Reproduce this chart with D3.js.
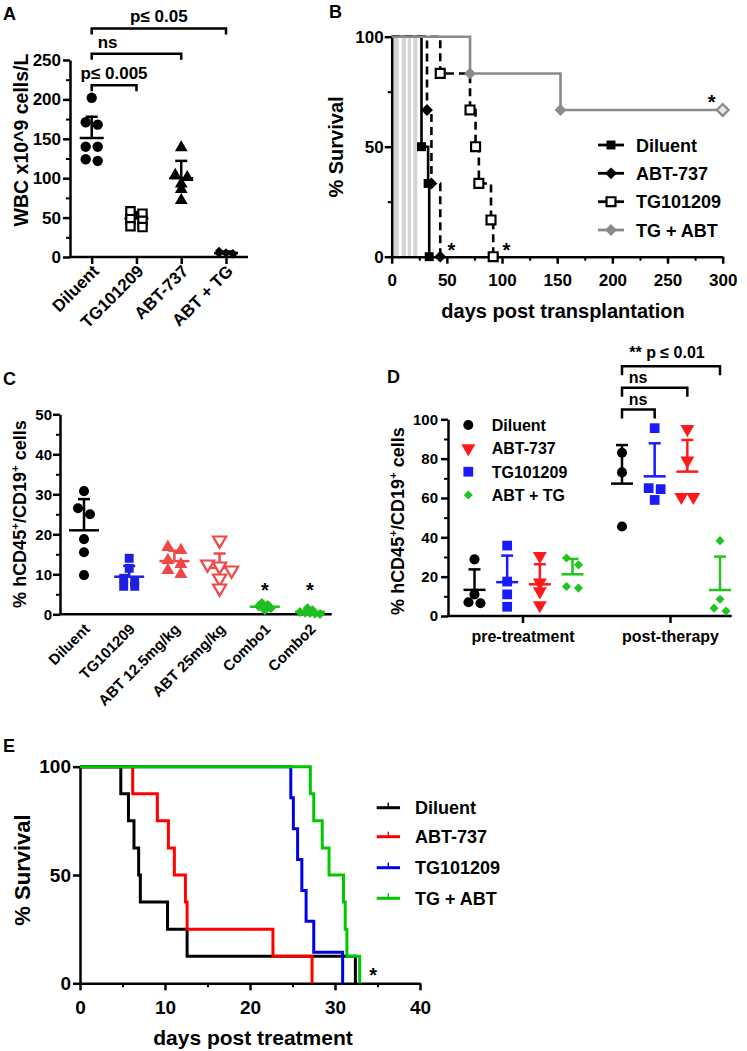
<!DOCTYPE html>
<html><head><meta charset="utf-8">
<script src="https://cdn.jsdelivr.net/npm/d3@7"></script>
<style>
body{margin:0;background:#fff;}
svg{display:block;}
</style></head><body>
<svg id="fig" width="747" height="1051"></svg>
<script>
// ================= DATA =================
// Panel A
const aCategories = ["Diluent","TG101209","ABT-737","ABT + TG"];
const aDiluent = [202,171,168,140,140,124,122];
const aTG101209 = [58,55,48,46,39,38];
const aABT737 = [139,104,101,93,86,72];
const aABTTG = [8,6,5,4,4,3];
const aMeans = [151,49,100,5];
const aSDUpper = [178,57,122,7];
const aYTicks = [0,50,100,150,200,250];
const aBrackets = [["Diluent","TG101209","p\u2264 0.005",218],["Diluent","ABT-737","ns",258],["Diluent","ABT + TG","p\u2264 0.05",290]];

// Panel B
const bStripes = [[1.5,6.3],[9,13],[14.5,17.5],[19.6,23.2]];
const bSeries = ["Diluent","ABT-737","TG101209","TG + ABT"];
const bDiluentDays = [0,27,33,34];
const bDiluentSurv = [100,50,33.3,0];
const bABTDays = [0,32,36,44];
const bABTSurv = [100,66.7,33.3,0];
const bTGDays = [0,44,71,76,79,90,92];
const bTGSurv = [100,83.3,66.7,50,33.3,16.7,0];
const bComboDays = [0,71,153,300];
const bComboSurv = [100,83.3,66.7,66.7];
const bXTicks = [0,50,100,150,200,250,300];
const bYTicks = [0,50,100];
const bStars = [[54,5],[104,5],[290,72]];

// Panel C
const cCategories = ["Diluent","TG101209","ABT 12.5mg/kg","ABT 25mg/kg","Combo1","Combo2"];
const cDiluent = [30.8,26.5,25,18.8,15.5,9.8];
const cTG101209 = [14,11.5,9,8,7,7];
const cABT125 = [16.8,16,13.5,12.5,11,10];
const cABT25 = [18.5,12.5,12,11,9,6.5];
const cCombo1 = [2.8,2.3,2.0,1.8,1.5,1.0];
const cCombo2 = [1.5,1.0,0.6,0.4,0.3,0.2,0.1];
const cMeans = [21,9.4,13.3,11.6,1.9,0.6];
const cSDUpper = [28.8,12.1,15.9,15.2,2.6,1.2];
const cYTicks = [0,10,20,30,40,50];
const cStars = ["Combo1","Combo2"];

// Panel D
const dGroups = ["pre-treatment","post-therapy"];
const dSeries = ["Diluent","TG101209","ABT-737","ABT + TG"];
const dLegendOrder = ["Diluent","ABT-737","TG101209","ABT + TG"];
const dPreDiluent = [28.8,11,7,6.5];
const dPreTG = [35.8,17.5,11,4.7];
const dPreABT = [30.5,17,12.5,5.5];
const dPreCombo = [29.5,26,15,14.2];
const dPostDiluent = [83,73,45.5];
const dPostTG = [95.5,65,64.5,59];
const dPostABT = [95,79,60.5,60.5];
const dPostCombo = [38.3,8.5,4,2.5];
const dPreMeans = [13.3,17.2,16.1,21.2];
const dPreSDUpper = [23.7,30.7,26.3,29];
const dPostMeans = [67.3,71,73.4,13.2];
const dPostSDUpper = [86.9,87.8,89.5,30.2];
const dYTicks = [0,20,40,60,80,100];
const dBrackets = [["TG101209","ns",105],["ABT-737","ns",116],["ABT + TG","** p \u2264 0.01",127]];

// Panel E
const eSeries = ["Diluent","ABT-737","TG101209","TG + ABT"];
const eDiluentDays = [0,4.8,5.7,6.35,6.9,7.1,10.3,12.6,32.4];
const eDiluentSurv = [100,87.5,75,62.5,50,37.5,25,12.5,0];
const eABTDays = [0,6.2,9.1,10.4,11.1,12.4,12.6,22.7,27.3];
const eABTSurv = [100,87.5,75,62.5,50,37.5,25,12.5,0];
const eTGDays = [0,24.8,25.1,25.6,26.1,26.6,27.5,30.9];
const eTGSurv = [100,85.7,71.4,57.1,42.9,28.6,14.3,0];
const eComboDays = [0,27.1,27.5,28.5,29.3,31.0,31.2,31.4,32.9];
const eComboSurv = [100,87.5,75,62.5,50,37.5,25,12.5,0];
const eXTicks = [0,10,20,30,40];
const eYTicks = [0,50,100];
const eStar = [34.5,6];

// ================= DRAWING =================
const FONT = '"Liberation Sans", Arial, Helvetica, sans-serif';
const svg = d3.select("#fig").attr("font-family", FONT).attr("font-weight","bold");
const AW = 2.5;

function styleAxis(g, fs){
  g.attr("font-family", FONT).attr("font-size", fs).attr("font-weight","bold");
  g.select(".domain").attr("stroke","#000").attr("stroke-width",AW);
  g.selectAll(".tick line").attr("stroke","#000").attr("stroke-width",AW);
  g.selectAll(".tick text").attr("fill","#000");
  return g;
}
function minorTicks(g){ g.select(".domain").remove(); g.selectAll(".tick line").attr("stroke","#000").attr("stroke-width",2); g.selectAll("text").remove(); }

function sym(type){
  if(type==="circle") return {t:d3.symbolCircle, r:0};
  if(type==="square") return {t:d3.symbolSquare, r:0};
  if(type==="tri") return {t:d3.symbolTriangle, r:0};
  if(type==="tridown") return {t:d3.symbolTriangle, r:180};
  return {t:d3.symbolSquare, r:45};
}
function marker(g, type, size, x, y, fill, stroke, sw){
  const s = sym(type);
  g.append("path").attr("d", d3.symbol().type(s.t).size(size)())
   .attr("transform",`translate(${x},${y}) rotate(${s.r})`)
   .attr("fill",fill).attr("stroke",stroke||"none").attr("stroke-width",sw||0);
}
// symmetric row jitter
function jitter(values, y, spacing, thresh){
  const idx = values.map((v,i)=>i).sort((a,b)=>values[b]-values[a]);
  const off = new Array(values.length).fill(0);
  let row=[], start=null;
  const flush=()=>{row.forEach((i,k)=>{off[i]=(k-(row.length-1)/2)*spacing;}); row=[];};
  idx.forEach(i=>{
    const py=y(values[i]);
    if(row.length && Math.abs(py-start)>thresh) flush();
    if(!row.length) start=py;
    row.push(i);
  });
  flush();
  return off;
}
function scatter(g, values, cx, y, type, size, fill, stroke, sw, spacing, thresh){
  const off = jitter(values, y, spacing, thresh);
  values.forEach((v,i)=>marker(g,type,size,cx+off[i],y(v),fill,stroke,sw));
}
function meanSD(g, cx, mean, upper, y, color, halfW, capHalf){
  g.append("line").attr("x1",cx).attr("x2",cx).attr("y1",y(mean)).attr("y2",y(upper)).attr("stroke",color).attr("stroke-width",AW);
  g.append("line").attr("x1",cx-capHalf).attr("x2",cx+capHalf).attr("y1",y(upper)).attr("y2",y(upper)).attr("stroke",color).attr("stroke-width",AW);
  g.append("line").attr("x1",cx-halfW).attr("x2",cx+halfW).attr("y1",y(mean)).attr("y2",y(mean)).attr("stroke",color).attr("stroke-width",AW);
}
function label(txt,x,y,fs,anchor){
  return svg.append("text").attr("x",x).attr("y",y).attr("font-size",fs).attr("text-anchor",anchor||"start").attr("fill","#000").text(txt);
}
function vTitle(cx,cy,fs){
  return svg.append("text").attr("transform",`translate(${cx},${cy}) rotate(-90)`).attr("text-anchor","middle").attr("dy","0.35em").attr("font-size",fs).attr("fill","#000");
}
function cdTitle(t){
  t.append("tspan").text("% hCD45");
  t.append("tspan").text("+").attr("font-size","65%").attr("dy","-7");
  t.append("tspan").text("/CD19").attr("dy","7");
  t.append("tspan").text("+").attr("font-size","65%").attr("dy","-7");
  t.append("tspan").text(" cells").attr("dy","7");
}
function kmPath(days, surv, x, y){
  return d3.line().x((d,i)=>x(days[i])).y((d,i)=>y(surv[i])).curve(d3.curveStepAfter)(days);
}

// ---------------- Panel A ----------------
{
  const x = d3.scalePoint().domain(aCategories).range([91.7,226]);
  const y = d3.scaleLinear().domain([0,250]).range([257,60]);
  const g = svg.append("g");
  const minors = d3.range(25,250,50);
  g.append("g").attr("transform","translate(70,0)").call(d3.axisLeft(y).tickValues(minors).tickSize(4)).call(minorTicks);
  g.append("g").attr("transform","translate(70,0)").call(d3.axisLeft(y).tickValues(aYTicks).tickSize(7).tickPadding(2).tickSizeOuter(0)).call(gg=>styleAxis(gg,17));
  const xa = g.append("g").attr("transform","translate(0,257)").call(d3.axisBottom(x).tickSize(7).tickFormat(""));
  xa.select(".domain").remove();
  xa.selectAll(".tick line").attr("stroke","#000").attr("stroke-width",AW);
  g.append("line").attr("x1",70).attr("x2",248).attr("y1",257).attr("y2",257).attr("stroke","#000").attr("stroke-width",AW);
  g.selectAll("text.xl").data(aCategories).join("text")
    .attr("transform",d=>`translate(${x(d)+4},${257+11}) rotate(-45)`)
    .attr("text-anchor","end").attr("dy","0.35em").attr("font-size",17).attr("fill","#000").text(d=>d);
  aCategories.forEach((c,i)=>meanSD(g,x(c),aMeans[i],aSDUpper[i],y,"#000",12,6));
  scatter(g,aDiluent,x("Diluent"),y,"circle",85,"#000",null,0,12,5);
  scatter(g,aTG101209,x("TG101209"),y,"square",70,"#fff","#000",2.2,12,5);
  scatter(g,aABT737,x("ABT-737"),y,"tri",70,"#000",null,0,12,5);
  scatter(g,aABTTG,x("ABT + TG"),y,"diamond",32,"#000",null,0,7,3);
  aBrackets.forEach(([a,b,t,v])=>{
    const yy=y(v);
    g.append("path").attr("d",`M${x(a)},${yy+6}V${yy}H${x(b)}V${yy+6}`).attr("fill","none").attr("stroke","#000").attr("stroke-width",AW);
    if(t==="ns") label(t,x(a)+6,yy-6,17,"start");
    else label(t,(x(a)+x(b))/2,yy-6,17,"middle");
  });
  vTitle(21,140,19.5).text("WBC x10^9 cells/L");
  label("A",3,20,18,"start");
}

// ---------------- Panel B ----------------
{
  const x = d3.scaleLinear().domain([0,300]).range([391.7,722.7]);
  const y = d3.scaleLinear().domain([0,100]).range([256.7,36.7]);
  const g = svg.append("g");
  g.selectAll("rect.st").data(bStripes).join("rect").attr("x",d=>x(d[0])).attr("width",d=>x(d[1])-x(d[0]))
    .attr("y",y(100)).attr("height",y(0)-y(100)).attr("fill","#d4d4d4");
  g.append("g").attr("transform","translate(391.7,0)").call(d3.axisLeft(y).tickValues([25,75]).tickSize(4)).call(minorTicks);
  g.append("g").attr("transform","translate(0,256.7)").call(d3.axisBottom(x).tickValues(d3.range(25,300,50)).tickSize(4)).call(minorTicks);
  g.append("g").attr("transform","translate(391.7,0)").call(d3.axisLeft(y).tickValues(bYTicks).tickSize(7).tickPadding(1).tickSizeOuter(0)).call(gg=>styleAxis(gg,17));
  g.append("g").attr("transform","translate(0,256.7)").call(d3.axisBottom(x).tickValues(bXTicks).tickSize(7).tickPadding(10).tickSizeOuter(0)).call(gg=>styleAxis(gg,17));
  const GRAY="#8a8a8a";
  const series = [
    {d:bDiluentDays,s:bDiluentSurv,c:"#000",dash:null,m:"square",f:"#000"},
    {d:bABTDays,s:bABTSurv,c:"#000",dash:"8,5",m:"diamond",f:"#000"},
    {d:bTGDays,s:bTGSurv,c:"#000",dash:"8,5",m:"square",f:"#fff"},
    {d:bComboDays,s:bComboSurv,c:GRAY,dash:null,m:"diamond",f:GRAY}
  ];
  series.forEach(S=>{
    g.append("path").attr("d",kmPath(S.d,S.s,x,y)).attr("fill","none").attr("stroke",S.c).attr("stroke-width",2.6).attr("stroke-dasharray",S.dash);
  });
  series.forEach((S,k)=>{
    S.d.forEach((dd,i)=>{
      if(i===0) return;
      const last = (k===3 && i===S.d.length-1);
      const open = S.f==="#fff" || last;
      marker(g,S.m,S.m==="diamond"?70:80,x(dd),y(S.s[i]),last?"#e6e6e6":S.f,open?S.c:null,open?2.2:0);
    });
  });
  bStars.forEach(([dd,v])=>label("*",x(dd),y(v)+11,20,"middle"));
  const ly=[145,173.3,201.7,230];
  series.forEach((S,i)=>{
    g.append("line").attr("x1",598).attr("x2",624).attr("y1",ly[i]).attr("y2",ly[i]).attr("stroke",S.c).attr("stroke-width",2.8);
    const open = S.f==="#fff";
    marker(g,S.m,S.m==="diamond"?70:80,611,ly[i],S.f,open?S.c:null,open?2.2:0);
    label(bSeries[i],636,ly[i]+6.5,18,"start");
  });
  label("days post transplantation",563,318,20,"middle");
  vTitle(336,147,20).text("% Survival");
  label("B",329,18,18,"start");
}

// ---------------- Panel C ----------------
{
  const x = d3.scalePoint().domain(cCategories).range([84,310]);
  const y = d3.scaleLinear().domain([0,50]).range([614.3,414.3]);
  const g = svg.append("g");
  g.append("g").attr("transform","translate(60,0)").call(d3.axisLeft(y).tickValues(d3.range(5,50,10)).tickSize(4)).call(minorTicks);
  g.append("g").attr("transform","translate(60,0)").call(d3.axisLeft(y).tickValues(cYTicks).tickSize(7).tickPadding(1).tickSizeOuter(0)).call(gg=>styleAxis(gg,15));
  g.append("line").attr("x1",60).attr("x2",331.7).attr("y1",614.3).attr("y2",614.3).attr("stroke","#000").attr("stroke-width",AW);
  g.selectAll("text.xl").data(cCategories).join("text")
    .attr("transform",d=>`translate(${x(d)+3},${614.3+12}) rotate(-45)`)
    .attr("text-anchor","end").attr("dy","0.35em").attr("font-size",15).attr("fill","#000").text(d=>d);
  const BL="#1f1fe0", RD="#f04848", GR="#1fbf1f";
  const cols=["#000",BL,RD,RD,GR,GR];
  cCategories.forEach((c,i)=>meanSD(g,x(c),cMeans[i],cSDUpper[i],y,cols[i],15,6));
  scatter(g,cDiluent,x(cCategories[0]),y,"circle",80,"#000",null,0,12,7);
  scatter(g,cTG101209,x(cCategories[1]),y,"square",80,BL,null,0,11,7);
  scatter(g,cABT125,x(cCategories[2]),y,"tri",75,RD,null,0,13,7);
  scatter(g,cABT25,x(cCategories[3]),y,"tridown",75,"#fff",RD,2.2,12,7);
  scatter(g,cCombo1,x(cCategories[4]),y,"diamond",50,GR,null,0,6,3);
  scatter(g,cCombo2,x(cCategories[5]),y,"diamond",50,GR,null,0,5,3);
  cStars.forEach(c=>label("*",x(c),585+11.5,20,"middle"));
  cdTitle(vTitle(20,514,18));
  label("C",3,385,18,"start");
}

// ---------------- Panel D ----------------
{
  const gx = d3.scalePoint().domain(dGroups).range([522.5,670]);
  const sx = d3.scalePoint().domain(dSeries).range([-48,50]);
  const y = d3.scaleLinear().domain([0,100]).range([616,419.3]);
  const g = svg.append("g");
  g.append("g").attr("transform","translate(448,0)").call(d3.axisLeft(y).tickValues(d3.range(10,100,20)).tickSize(4)).call(minorTicks);
  g.append("g").attr("transform","translate(448,0)").call(d3.axisLeft(y).tickValues(dYTicks).tickSize(7).tickPadding(3).tickSizeOuter(0)).call(gg=>styleAxis(gg,15));
  const xa = g.append("g").attr("transform","translate(0,616)").call(d3.axisBottom(gx).tickSize(7).tickPadding(8));
  xa.select(".domain").remove();
  styleAxis(xa,16);
  g.append("line").attr("x1",448).attr("x2",731.7).attr("y1",616).attr("y2",616).attr("stroke","#000").attr("stroke-width",AW);
  const COL={"Diluent":"#000","TG101209":"#1a1aff","ABT-737":"#ff1a1a","ABT + TG":"#22c422"};
  const SYM={"Diluent":["circle",80],"TG101209":["square",95],"ABT-737":["tridown",85],"ABT + TG":["diamond",42]};
  const pre=[dPreDiluent,dPreTG,dPreABT,dPreCombo], post=[dPostDiluent,dPostTG,dPostABT,dPostCombo];
  [[pre,dPreMeans,dPreSDUpper,"pre-treatment"],[post,dPostMeans,dPostSDUpper,"post-therapy"]].forEach(([vals,m,sd,grp])=>{
    dSeries.forEach((s,i)=>{
      const cx=gx(grp)+sx(s);
      meanSD(g,cx,m[i],sd[i],y,COL[s],11,6);
      scatter(g,vals[i],cx,y,SYM[s][0],SYM[s][1],COL[s],null,0,12,7);
    });
  });
  dBrackets.forEach(([s,t,v])=>{
    const x0=gx("post-therapy")+sx("Diluent"), x1=gx("post-therapy")+sx(s), yy=y(v);
    g.append("path").attr("d",`M${x0},${yy+9}V${yy}H${x1}V${yy+9}`).attr("fill","none").attr("stroke","#000").attr("stroke-width",AW);
  });
  label("ns",638,405,16,"middle");
  label("ns",638,383,16,"middle");
  label("** p \u2264 0.01",667,358,16,"middle");
  const ly=[425,448.3,471.7,495];
  dLegendOrder.forEach((s,i)=>{
    marker(g,SYM[s][0],SYM[s][1],468.3,ly[i],COL[s],null,0);
    label(s,491.7,ly[i]+6,16,"start");
  });
  cdTitle(vTitle(398,521,18));
  label("D",387,383,18,"start");
}

// ---------------- Panel E ----------------
{
  const x = d3.scaleLinear().domain([0,40]).range([80,420]);
  const y = d3.scaleLinear().domain([0,100]).range([983.3,766.7]);
  const g = svg.append("g");
  g.append("g").attr("transform","translate(0,983.3)").call(d3.axisBottom(x).tickValues(d3.range(5,40,10)).tickSize(4)).call(minorTicks);
  g.append("g").attr("transform","translate(80,0)").call(d3.axisLeft(y).tickValues(eYTicks).tickSize(7).tickPadding(2).tickSizeOuter(0)).call(gg=>styleAxis(gg,19));
  g.append("g").attr("transform","translate(0,983.3)").call(d3.axisBottom(x).tickValues(eXTicks).tickSize(7).tickPadding(10).tickSizeOuter(0)).call(gg=>styleAxis(gg,19));
  const series=[
    {d:eDiluentDays,s:eDiluentSurv,c:"#000"},
    {d:eABTDays,s:eABTSurv,c:"#ff0000"},
    {d:eTGDays,s:eTGSurv,c:"#0000e6"},
    {d:eComboDays,s:eComboSurv,c:"#00c800"}
  ];
  series.forEach(S=>{
    g.append("path").attr("d",kmPath(S.d,S.s,x,y)).attr("fill","none").attr("stroke",S.c).attr("stroke-width",3);
  });
  const ly=[807.7,836.7,867.7,898.3];
  series.forEach((S,i)=>{
    g.append("line").attr("x1",376.7).attr("x2",400).attr("y1",ly[i]).attr("y2",ly[i]).attr("stroke",S.c).attr("stroke-width",3);
    g.append("line").attr("x1",388.3).attr("x2",388.3).attr("y1",ly[i]-5).attr("y2",ly[i]).attr("stroke",S.c).attr("stroke-width",1.5);
    label(eSeries[i],415,ly[i]+6.5,18,"start");
  });
  label("*",x(eStar[0]),y(eStar[1])+11.5,20,"middle");
  label("days post treatment",253,1045,21,"middle");
  vTitle(22,870,22).text("% Survival");
  label("E",3,752,18,"start");
}
</script>
</body></html>
